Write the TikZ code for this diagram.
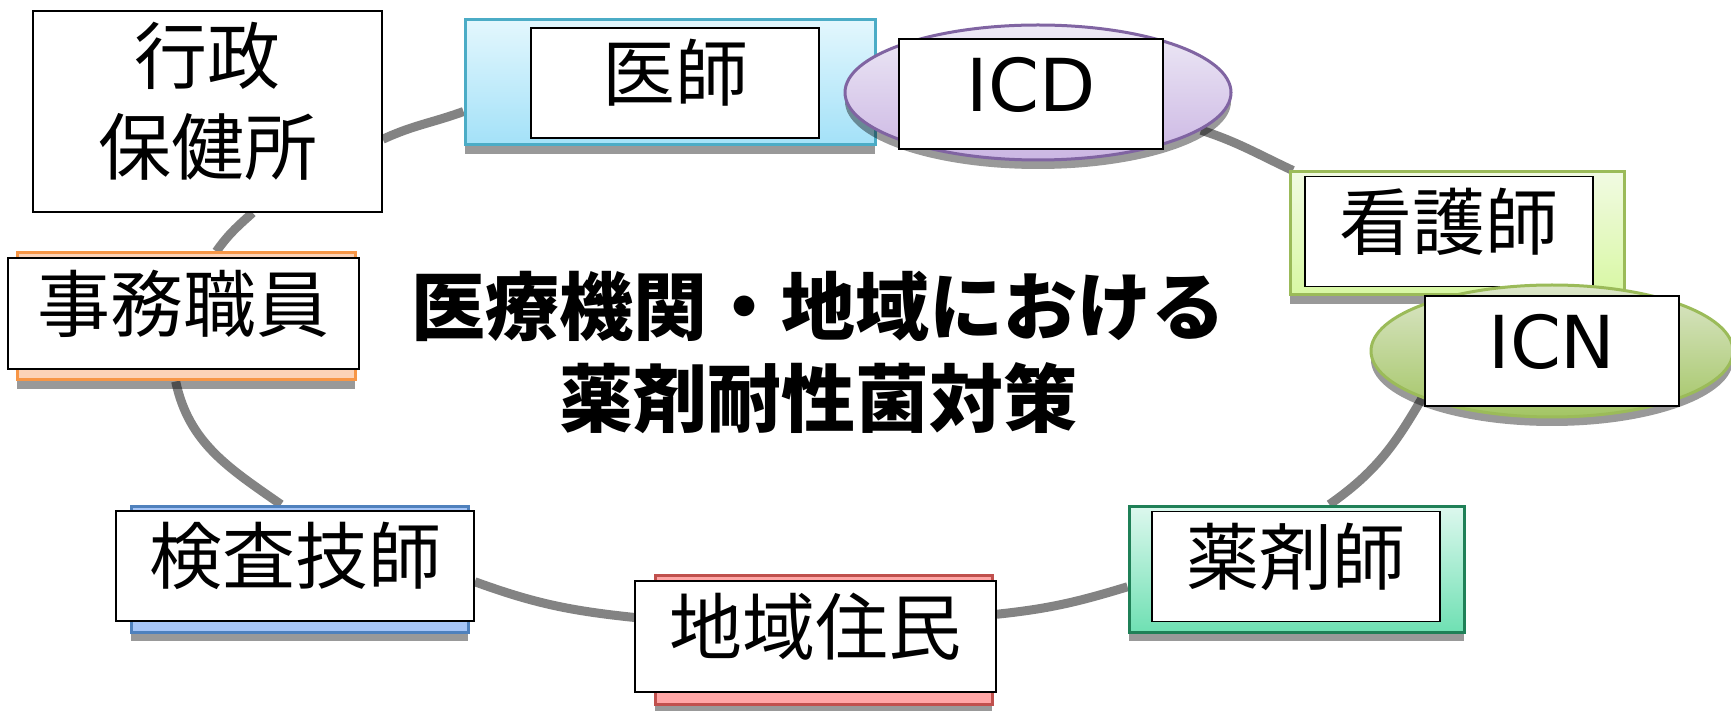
\documentclass[tikz,border=0pt]{standalone}
\usepackage{fontspec}
\newfontfamily\jp{Noto Sans CJK JP}
\newfontfamily\lat{DejaVu Sans}
\usetikzlibrary{shapes.geometric,shadows}
\pgfdeclarelayer{bg}
\pgfsetlayers{bg,main}
\definecolor{ringgray}{HTML}{838383}
\definecolor{ishiB}{HTML}{4BACC6}\definecolor{ishiT}{HTML}{E3F7FD}\definecolor{ishiL}{HTML}{A3E1F8}
\definecolor{icdB}{HTML}{8064A2}\definecolor{icdT}{HTML}{EEEAF6}\definecolor{icdL}{HTML}{CBB6E3}
\definecolor{kanB}{HTML}{9BBB59}\definecolor{kanT}{HTML}{F1FAE2}\definecolor{kanL}{HTML}{D8F8A3}
\definecolor{icnB}{HTML}{9BBB59}\definecolor{icnT}{HTML}{DDE7CB}\definecolor{icnL}{HTML}{A3C564}
\definecolor{yakB}{HTML}{1F8057}\definecolor{yakT}{HTML}{DDF8EE}\definecolor{yakL}{HTML}{6FE0B3}
\definecolor{jimB}{HTML}{F79646}\definecolor{jimF}{HTML}{FCD3B8}
\definecolor{kenB}{HTML}{4F81BD}\definecolor{kenF}{HTML}{A6C5F7}
\definecolor{chiB}{HTML}{C0504D}\definecolor{chiF}{HTML}{FFA6A6}
\begin{document}
\begin{tikzpicture}[x=1pt,y=1pt,
  ring/.style={draw=ringgray,line width=9pt},
  shd/.style={drop shadow={shadow xshift=0pt,shadow yshift=-9pt,opacity=0.4,fill=black}},
  backbox/.style={shd,rectangle,line width=3pt,inner sep=0pt},
  backell/.style={shd,ellipse,line width=3pt,inner sep=0pt},
  wbox/.style={draw=black,line width=1.6pt,fill=white,inner sep=0pt,
    minimum height=110pt,text height=72.7pt,text depth=37.3pt,
    font=\jp\fontsize{73}{80}\selectfont},
  latbox/.style={wbox,font=\lat\fontsize{73}{80}\selectfont},
  gbox/.style={draw=black,line width=1.6pt,fill=white,inner sep=0pt,
    text height=72.2pt,text depth=128.8pt,
    font=\jp\fontsize{73}{91}\selectfont},
  titletext/.style={inner sep=0pt,anchor=base,font=\jp\bfseries\fontsize{74}{92}\selectfont}
]
\useasboundingbox (0,0) rectangle (1731,710);

% left top box
\node[gbox,minimum width=349pt,minimum height=201pt] (gyosei) at (207.5,598.5)
  {\begin{tabular}[t]{@{}c@{}}行政\\保健所\end{tabular}};

% doctor
\node[backbox,draw=ishiB,top color=ishiT,bottom color=ishiL,minimum width=410pt,minimum height=125pt] (ishi-bg) at (670,627.5) {};
\node[wbox,minimum width=288pt] (ishi) at (675,627) {医師};

% ICD
\node[backell,draw=icdB,top color=icdT,bottom color=icdL,minimum width=386pt,minimum height=135pt] (icd-bg) at (1038,617.5) {};
\node[latbox,minimum width=264pt] (icd) at (1031,616) {ICD};

% nurse
\node[backbox,draw=kanB,top color=kanT,bottom color=kanL,minimum width=334pt,minimum height=123pt] (kango-bg) at (1457,476.5) {};
\node[wbox,minimum width=288pt,minimum height=109pt] (kango) at (1449,478.5) {看護師};

% ICN
\node[backell,draw=icnB,top color=icnT,bottom color=icnL,minimum width=362pt,minimum height=132pt] (icn-bg) at (1552,359) {};
\node[latbox,minimum width=254pt] (icn) at (1552,359) {ICN};

% clerk
\node[backbox,draw=jimB,fill=jimF,minimum width=338pt,minimum height=127pt] (jimu-bg) at (186,393.5) {};
\node[wbox,minimum width=351pt,minimum height=111pt] (jimu) at (183.5,396.5) {事務職員};

% lab technician
\node[backbox,draw=kenB,fill=kenF,minimum width=337pt,minimum height=126pt] (kensa-bg) at (299.5,141) {};
\node[wbox,minimum width=358pt] (kensa) at (295,144) {検査技師};

% residents
\node[backbox,draw=chiB,fill=chiF,minimum width=337pt,minimum height=129pt] (chiiki-bg) at (823.5,70.5) {};
\node[wbox,minimum width=361pt,minimum height=111pt] (chiiki) at (815.5,73.5) {地域住民};

% pharmacist
\node[backbox,draw=yakB,top color=yakT,bottom color=yakL,minimum width=335pt,minimum height=126pt] (yaku-bg) at (1296.5,141) {};
\node[wbox,minimum width=288pt,minimum height=109pt] (yaku) at (1296,143.5) {薬剤師};

% title
\node[titletext] (title) at (818,375)
  {\begin{tabular}[t]{@{}c@{}}医療機関・地域における\\薬剤耐性菌対策\end{tabular}};

\begin{pgfonlayer}{bg}
\fill[white] (0,0) rectangle (1731,710);
\draw[ring] (gyosei.-9) to[out=25,in=200] (ishi-bg.188);
\draw[ring] (icd-bg.-13) to[out=-18,in=155] (kango-bg.159);
\draw[ring] (icn-bg.200) to[out=240,in=35] (yaku-bg.63);
\draw[ring] (yaku-bg.186) to[out=197,in=6] (chiiki.7);
\draw[ring] (chiiki.174) to[out=174,in=-20] (kensa.-5);
\draw[ring] (kensa-bg.106) to[out=145,in=-78] (jimu-bg.261);
\draw[ring] (jimu-bg.65) to[out=55,in=222] (gyosei.-66);
\end{pgfonlayer}
\end{tikzpicture}
\end{document}
